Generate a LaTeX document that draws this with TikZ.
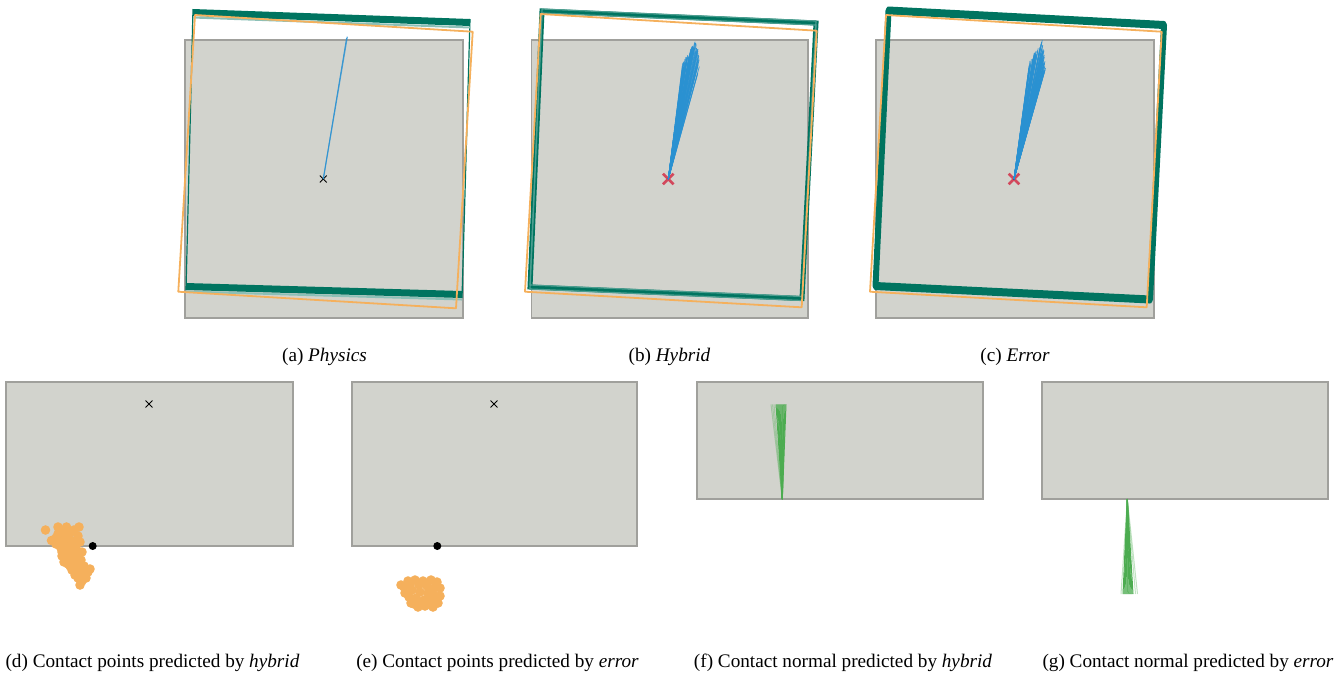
\documentclass[tikz,border=0pt]{standalone}
\usepackage{fontspec}
\setmainfont{Liberation Serif}
\usetikzlibrary{shapes.misc}

\definecolor{boxgray}{RGB}{210,211,205}
\definecolor{edgegray}{RGB}{160,160,156}
\definecolor{simteal}{RGB}{0,116,96}
\definecolor{simorange}{RGB}{245,176,92}
\definecolor{simblue}{RGB}{42,145,210}
\definecolor{simred}{RGB}{210,72,92}
\definecolor{simgreen}{RGB}{76,172,80}

\begin{document}
\begin{tikzpicture}[x=0.5pt, y=-0.5pt,
    block/.style={fill=boxgray, draw=edgegray, line width=0.6pt},
    target/.style={draw=simorange, line width=0.9pt, line join=round},
    pose/.style={draw=simteal, line width=0.6pt},
    ray/.style={draw=simblue, line width=0.4pt, opacity=0.8},
    normalray/.style={draw=simgreen, line width=0.5pt},
    contact/.style={fill=simorange},
    com/.style={cross out, draw=black, line width=0.45pt, minimum size=3pt, inner sep=0pt},
    combad/.style={cross out, draw=simred, line width=1.3pt, minimum size=4pt, inner sep=0pt},
    touch/.style={circle, fill=black, minimum size=4pt, inner sep=0pt},
    caption/.style={font=\fontsize{9.6}{11}\selectfont, inner sep=0pt, anchor=base}]
  \useasboundingbox (0,0) rectangle (1343,677);
  \pgfmathsetseed{11}

  % (a) physics
  \draw[block] (185,40) rectangle (463,318);
  \draw[pose] (193,9) -- (186,290) (470,19) -- (462,298);
  \draw[pose, line width=3.5pt] (193,12.5) -- (470,22.5);
  \draw[pose, line width=3.5pt] (186,286.5) -- (462,294.5);
  \draw[pose, draw=simteal!45, line width=1pt] (193,17.5) -- (470,27.5) (186,291.5) -- (462,299.5);
  \draw[target] (195,15) -- (472.7,31.7) -- (456,308.3) -- (178.3,291.7) -- cycle;
  \node[com] (ca) at (323.3,179) {};
  \draw[ray, line width=0.6pt] (ca.center) -- (347.3,36.7);
  \draw[ray] (ca.center) -- (346.5,38);

  % (b) hybrid
  \draw[block] (531.5,40) rectangle (808,318);
  \draw[pose, line width=2.5pt] (542,11) -- (816,23) -- (802,298.5) -- (530,287) -- cycle;
  \foreach \d in {-2,2}
    \draw[pose, draw=simteal!70, shift={(0,\d)}] (542,11) -- (816,23) -- (802,298.5) -- (530,287) -- cycle;
  \draw[target] (540.7,14) -- (816.7,30.7) -- (801.7,307.3) -- (525,291.7) -- cycle;
  \node[combad] (cb) at (668.3,179) {};
  \foreach \i in {1,...,80}{
    \pgfmathsetmacro\ang{78.7+4.3*rand}
    \pgfmathsetmacro\len{143-6*abs(\ang-78.5)-10*rnd}
    \draw[ray] (cb.center) -- ++({\len*cos(\ang)},{-\len*sin(\ang)});
  }

  % (c) error
  \draw[block] (876,40) rectangle (1154,318);
  \draw[pose, line width=3pt, line join=round] (888.5,10.5) -- (1164,25) -- (1150,299.5) -- (875.5,286) -- cycle;
  \foreach \d in {-2,2}
    \draw[pose, line join=round, line width=2pt, shift={(0,\d)}] (888.5,10.5) -- (1164,25) -- (1150,299.5) -- (875.5,286) -- cycle;
  \draw[target] (886,15) -- (1161.7,31.7) -- (1146.7,307.3) -- (870,291.7) -- cycle;
  \node[combad] (cc) at (1014,179) {};
  \foreach \i in {1,...,80}{
    \pgfmathsetmacro\ang{78.3+4.2*rand}
    \pgfmathsetmacro\len{142-6*abs(\ang-78.5)-10*rnd}
    \draw[ray] (cc.center) -- ++({\len*cos(\ang)},{-\len*sin(\ang)});
  }

  % (d) contact points, hybrid
  \draw[block] (6,382) rectangle (293,546);
  \node[com] (cd) at (149,404) {};
  \foreach \p in {(45.5,530),(51.5,540.5),(58,527),(66.5,527),(79,527),(62,532),(70,533),
      (78,536),(56,538),(64,540),(72,541),(80,542),(60,546),(68,547),(76,548),(62,552),
      (70,553),(78,555),(65,558),(73,559),(81,560),(68,564),(76,565),(84,566),(72,570),
      (80,571),(88,572),(90,569),(75,575),(83,576),(82,581),(78,578),(86,574),(70,561),
      (62,556),(58,534),(66,536),(74,530),(60,542),(70,546),(66,552),(74,556),(82,552),
      (70,566),(78,568),(86,578),(80,585),(64,562),(61,548),(56,544)}
    \fill[contact] \p circle (2.4pt);
  \node[touch] (pd) at (92.7,546) {};

  % (e) contact points, error
  \draw[block] (352,382) rectangle (637,546);
  \node[com] (ce) at (494,404) {};
  \foreach \p in {(401,585),(408,581),(415,580),(423,581),(431,580),(437,582),(440,588),
      (440,596),(438,603),(433,607),(425,606),(418,607),(411,603),(405,593),(412,590),
      (420,592),(428,593),(434,595),(416,598),(424,600),(430,600),(404,587),(410,585),
      (419,585),(427,586),(434,588),(409,597),(421,604),(429,604),(414,604),(436,599)}
    \fill[contact] \p circle (2.4pt);
  \node[touch] (pe) at (437.3,546) {};

  % (f) contact normal, hybrid
  \draw[block] (697,382) rectangle (983,499);
  \coordinate (nf) at (782.3,499);
  \foreach \e in {776,777,...,786}
    \draw[normalray] (nf) -- (\e,404.3);
  \foreach \e in {771,772.5,774}
    \draw[normalray, opacity=0.35] (nf) -- (\e,404.3);

  % (g) contact normal, error
  \draw[block] (1042,382) rectangle (1328,499);
  \coordinate (ng) at (1127.3,499);
  \foreach \e in {1123,1124,...,1133}
    \draw[normalray] (ng) -- (\e,594);
  \foreach \e in {1121,1135.5,1137.5}
    \draw[normalray, opacity=0.35] (ng) -- (\e,594);

  % captions
  \node[caption] (capa) at (324.5,361) {(a) \textit{Physics}};
  \node[caption] (capb) at (669.5,361) {(b) \textit{Hybrid}};
  \node[caption] (capc) at (1015,361) {(c) \textit{Error}};
  \node[caption] (capd) at (152.5,667) {(d) Contact points predicted by \textit{hybrid}};
  \node[caption] (cape) at (497.5,667) {(e) Contact points predicted by \textit{error}};
  \node[caption] (capf) at (843,667) {(f) Contact normal predicted by \textit{hybrid}};
  \node[caption] (capg) at (1188,667) {(g) Contact normal predicted by \textit{error}};
\end{tikzpicture}
\end{document}
